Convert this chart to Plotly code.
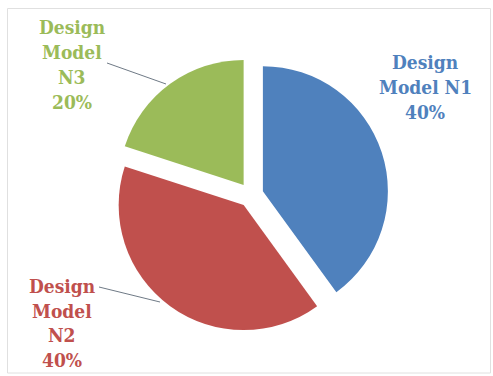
import plotly.graph_objects as go

W, H = 493, 376

# Data
categories = ["Design Model N1", "Design Model N2", "Design Model N3"]
label_breaks = ["Design<br>Model N1", "Design<br>Model<br>N2", "Design<br>Model<br>N3"]
values = [40, 40, 20]
colors = ["#4F81BD", "#C0504D", "#9BBB59"]

total = sum(values)
pcts = [round(100 * v / total) for v in values]


def px(x):
    return x / W


def py(y):
    return 1 - y / H


# pie box (pixels): centre (251, 195), side 275
cx, cy, side = 251, 195, 275
fig = go.Figure(
    go.Pie(
        labels=categories,
        values=values,
        marker=dict(colors=colors, line=dict(width=0)),
        sort=False,
        direction="clockwise",
        rotation=0,
        pull=[0.1, 0.1, 0.1],
        textinfo="none",
        hoverinfo="label+percent",
        showlegend=False,
        domain=dict(
            x=[px(cx - side / 2), px(cx + side / 2)],
            y=[py(cy + side / 2), py(cy - side / 2)],
        ),
    )
)

FONT = "DejaVu Serif Condensed, DejaVu Serif, serif"
FS = 19
# label anchor: centre x, first-line middle y, line spacing (pixels)
label_pos = [(425, 62, 25), (62, 286, 24.7), (72, 27, 25)]

annotations = []
for i, (text, pct) in enumerate(zip(label_breaks, pcts)):
    lines = text.split("<br>") + [f"{pct}%"]
    x0, y0, dy = label_pos[i]
    for k, line in enumerate(lines):
        annotations.append(
            dict(
                x=px(x0), y=py(y0 + k * dy), xref="paper", yref="paper",
                text=f"<b>{line}</b>", showarrow=False,
                xanchor="center", yanchor="middle",
                font=dict(family=FONT, size=FS, color=colors[i]),
            )
        )

shapes = [
    # chart frame
    dict(type="rect", xref="paper", yref="paper",
         x0=px(7.5), x1=px(490.5), y0=py(373), y1=py(8.5),
         line=dict(color="#e0e0e0", width=1), layer="below"),
    # leader lines
    dict(type="line", xref="paper", yref="paper",
         x0=px(107), y0=py(63), x1=px(166), y1=py(84),
         line=dict(color="#6f7a86", width=1)),
    dict(type="line", xref="paper", yref="paper",
         x0=px(99), y0=py(287), x1=px(160), y1=py(302),
         line=dict(color="#6f7a86", width=1)),
]

fig.update_layout(
    width=W, height=H,
    margin=dict(l=0, r=0, t=0, b=0),
    paper_bgcolor="white",
    plot_bgcolor="white",
    annotations=annotations,
    shapes=shapes,
)

fig.write_html("out.html")
